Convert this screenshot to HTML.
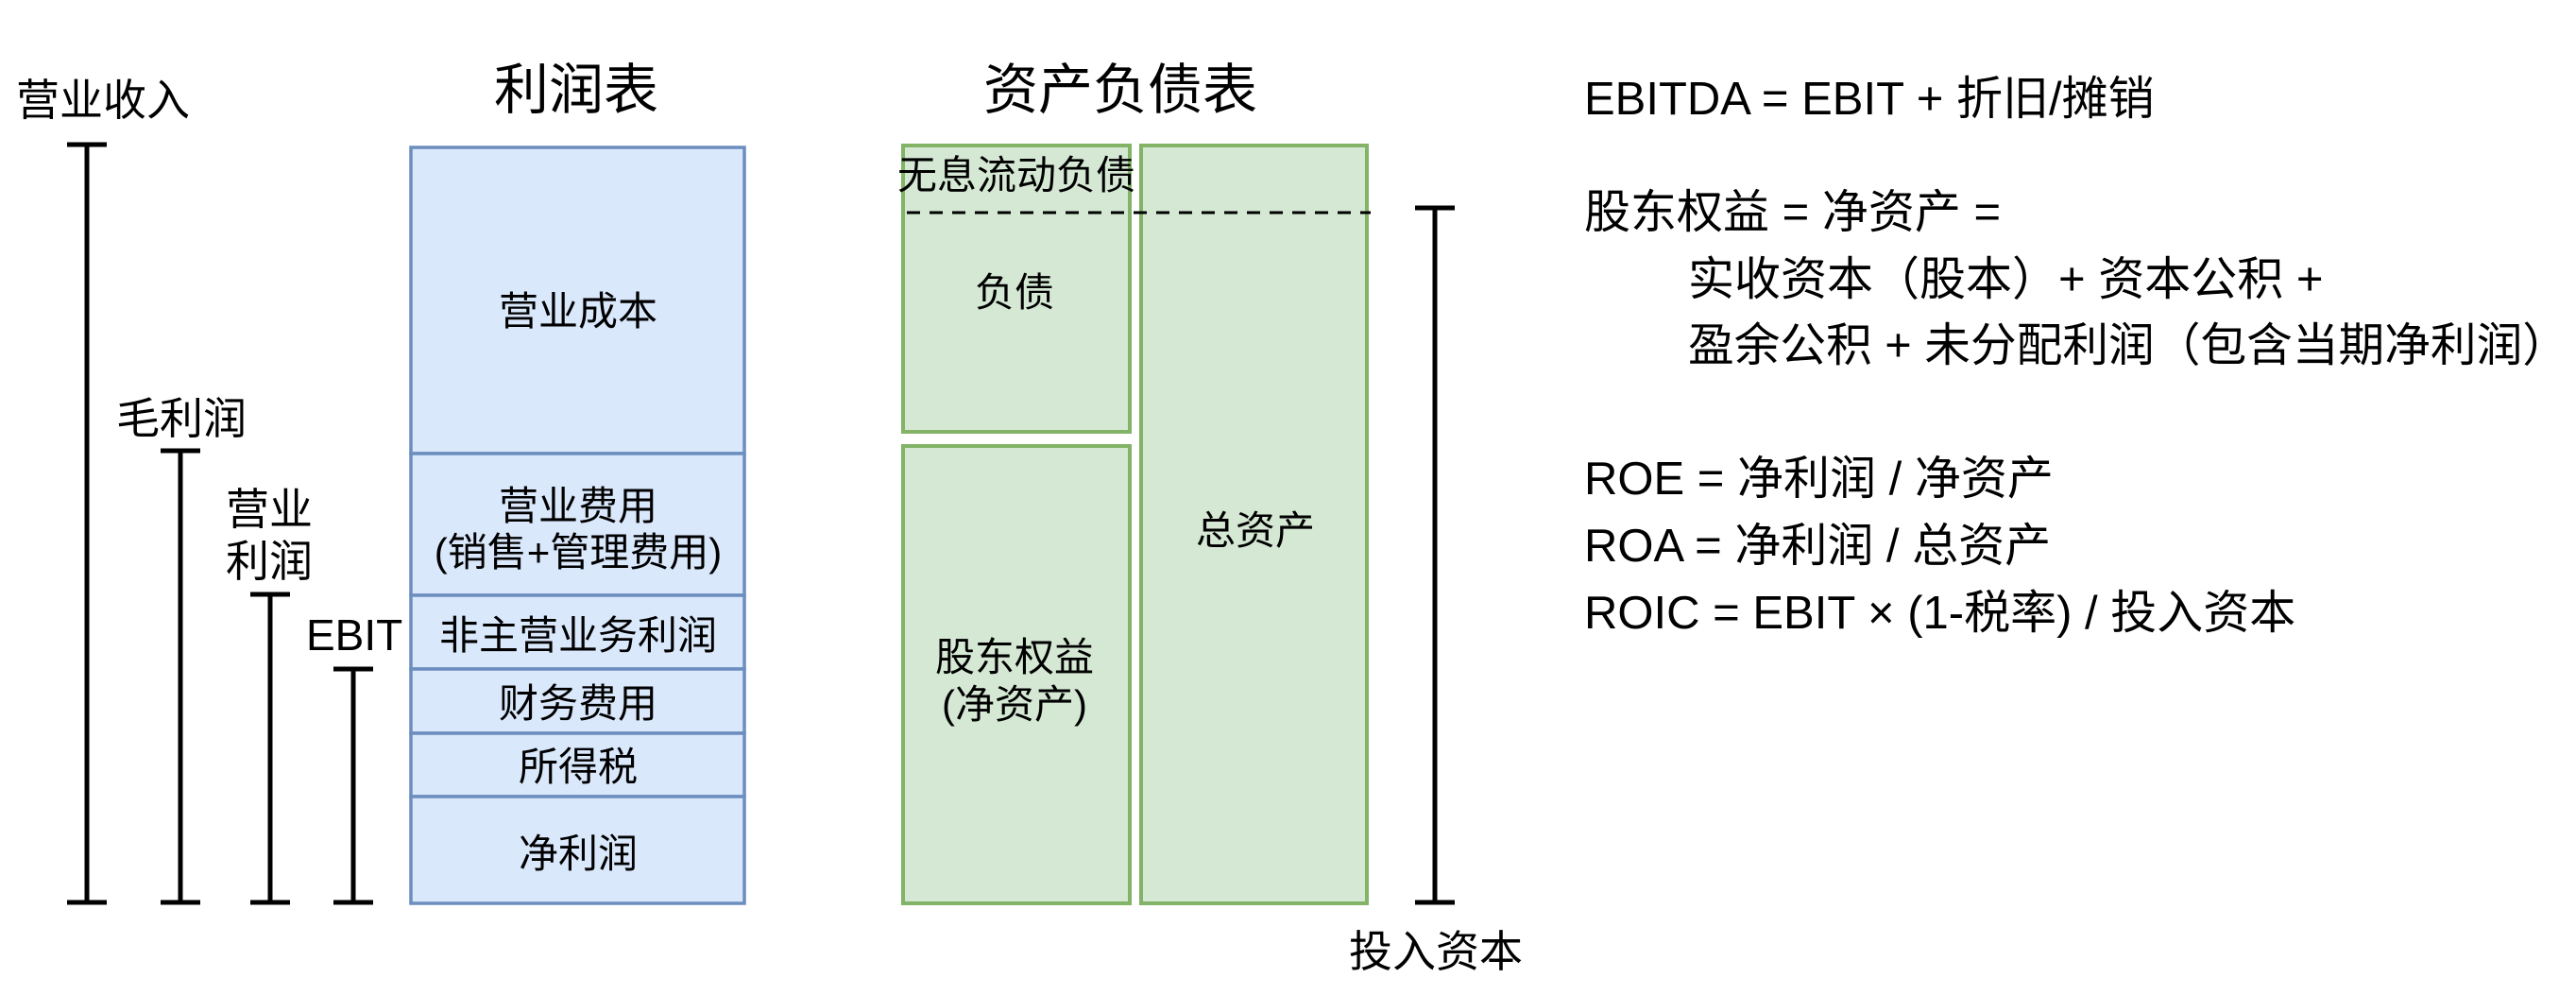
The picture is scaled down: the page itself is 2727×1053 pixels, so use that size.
<!DOCTYPE html>
<html><head><meta charset="utf-8"><style>
html,body{margin:0;padding:0;background:#fff}
svg{display:block}
text{font-family:"Liberation Sans","Noto Sans CJK SC",sans-serif;fill:#000}
</style></head><body>
<svg width="2727" height="1053" viewBox="0 0 2727 1053" xmlns="http://www.w3.org/2000/svg">
<g stroke="#000" stroke-width="5" fill="none">
<line x1="92" y1="153" x2="92" y2="955"/><line x1="71" y1="153" x2="113" y2="153"/><line x1="71" y1="955" x2="113" y2="955"/>
<line x1="191" y1="477" x2="191" y2="955"/><line x1="170" y1="477" x2="212" y2="477"/><line x1="170" y1="955" x2="212" y2="955"/>
<line x1="286" y1="629" x2="286" y2="955"/><line x1="265" y1="629" x2="307" y2="629"/><line x1="265" y1="955" x2="307" y2="955"/>
<line x1="374" y1="708" x2="374" y2="955"/><line x1="353" y1="708" x2="395" y2="708"/><line x1="353" y1="955" x2="395" y2="955"/>
<line x1="1519" y1="220" x2="1519" y2="955"/><line x1="1498" y1="220" x2="1540" y2="220"/><line x1="1498" y1="955" x2="1540" y2="955"/>
</g>
<g fill="#dae8fc" stroke="#6c8ebf" stroke-width="3.5">
<rect x="435" y="156" width="353" height="324"/>
<rect x="435" y="480" width="353" height="150"/>
<rect x="435" y="630" width="353" height="78"/>
<rect x="435" y="708" width="353" height="68"/>
<rect x="435" y="776" width="353" height="67"/>
<rect x="435" y="843" width="353" height="113"/>
</g>
<g fill="#d5e8d4" stroke="#82b366" stroke-width="4">
<rect x="956" y="154" width="240" height="303"/>
<rect x="956" y="472" width="240" height="484"/>
<rect x="1208" y="154" width="239" height="802"/>
</g>
<line x1="960" y1="225" x2="1451" y2="225" stroke="#000" stroke-width="3" stroke-dasharray="14,10"/>
<g font-size="46">
<text x="17" y="122">营业收入</text>
<text x="123" y="459">毛利润</text>
<text x="239" y="555">营业</text>
<text x="239" y="610">利润</text>
<text x="324" y="688">EBIT</text>
<text x="1428" y="1023">投入资本</text>
</g>
<g font-size="58" text-anchor="middle">
<text x="610" y="115">利润表</text>
<text x="1186" y="115">资产负债表</text>
</g>
<g font-size="42" text-anchor="middle">
<text x="612" y="344">营业成本</text>
<text x="612" y="550">营业费用</text>
<text x="612" y="599">(销售+管理费用)</text>
<text x="612" y="687">非主营业务利润</text>
<text x="612" y="759">财务费用</text>
<text x="612" y="826">所得税</text>
<text x="612" y="918">净利润</text>
<text x="1076" y="200">无息流动负债</text>
<text x="1074" y="324">负债</text>
<text x="1329" y="576">总资产</text>
<text x="1074" y="710">股东权益</text>
<text x="1074" y="760">(净资产)</text>
</g>
<g font-size="49" style="white-space:pre">
<text x="1677" y="121">EBITDA = EBIT + 折旧/摊销</text>
<text x="1677" y="241">股东权益 = 净资产 =</text>
<text x="1787" y="312">实收资本（股本）+ 资本公积 +</text>
<text x="1787" y="382" textLength="932" lengthAdjust="spacingAndGlyphs">盈余公积 + 未分配利润（包含当期净利润）</text>
<text x="1677" y="523">ROE = 净利润 / 净资产</text>
<text x="1677" y="594">ROA = 净利润 / 总资产</text>
<text x="1677" y="665">ROIC = EBIT × (1-税率) / 投入资本</text>
</g>
</svg>
</body></html>
